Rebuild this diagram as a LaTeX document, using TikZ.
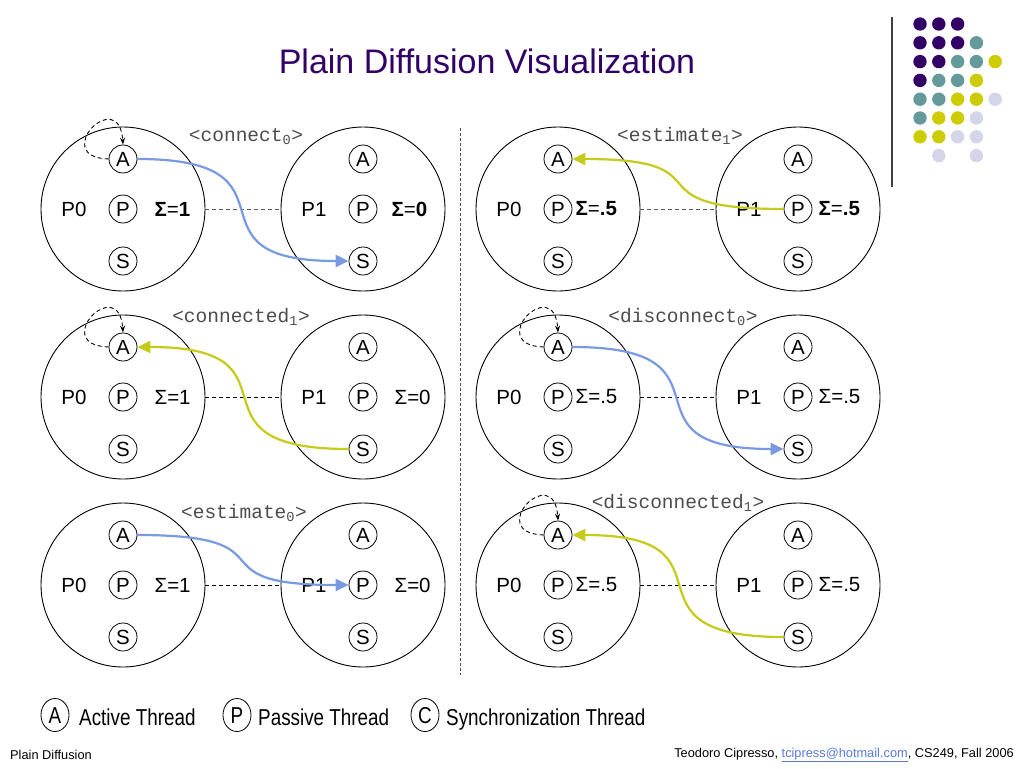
\documentclass[tikz,border=0pt]{standalone}
\usepackage{fontspec}
\setmainfont{Liberation Sans}
\setmonofont{Liberation Mono}
\newfontfamily\narrowsf[FakeStretch=0.82]{Liberation Sans}
\usetikzlibrary{arrows.meta,shapes.geometric}
\definecolor{titlepurple}{RGB}{51,0,102}
\definecolor{dotp}{RGB}{51,0,102}
\definecolor{dott}{RGB}{102,153,153}
\definecolor{doty}{RGB}{204,204,0}
\definecolor{dotl}{RGB}{213,213,234}
\definecolor{msgblue}{RGB}{122,153,227}
\definecolor{msgyellow}{RGB}{198,202,24}
\definecolor{maillink}{RGB}{90,120,220}

\begin{document}
\begin{tikzpicture}[x=1pt,y=-1pt,
  proc/.style={circle,draw,line width=0.9pt,minimum size=164pt,inner sep=0pt},
  thr/.style={circle,draw,line width=0.8pt,minimum size=28pt,inner sep=0pt,font=\fontsize{20.5}{20.5}\selectfont},
  lbl/.style={inner sep=0pt,font=\fontsize{20.5}{20.5}\selectfont},
  statelbl/.style={inner sep=0pt,text=black!70,font=\ttfamily\fontsize{19.5}{19.5}\selectfont},
  link/.style={dashed,line width=0.8pt,dash pattern=on 4pt off 3pt},
  selfloop/.style={line width=0.9pt,dash pattern=on 4pt off 3pt,-{Stealth[length=7pt,width=5pt]}},
  msg/.style={line width=2.2pt,-{Triangle[length=13pt,width=12pt]}},
  key/.style={ellipse,draw,line width=0.8pt,minimum width=28pt,minimum height=33pt,inner sep=0pt,text height=17.5pt,text depth=0pt,font=\narrowsf\fontsize{23}{23}\selectfont},
  keytext/.style={anchor=base west,inner sep=0pt,font=\narrowsf\fontsize{23}{23}\selectfont},
  foot/.style={inner sep=0pt,font=\fontsize{12.8}{12.8}\selectfont}]

\fill[white] (0,0) rectangle (1024,768);
\useasboundingbox (0,0) rectangle (1024,768);

\node[text=titlepurple,font=\fontsize{34}{34}\selectfont] (title) at (487,61) {Plain Diffusion Visualization};

\draw[black!75,line width=1.5pt] (892,17) -- (892,187);
\foreach \r/\cols in {0/{dotp,dotp,dotp},1/{dotp,dotp,dotp,dott},2/{dotp,dotp,dott,dott,doty},
  3/{dotp,dott,dott,doty},4/{dott,dott,doty,doty,dotl},5/{dott,doty,doty,dotl},
  6/{doty,doty,dotl,dotl},7/{none,dotl,none,dotl}}
  \foreach \c [count=\i from 0] in \cols
    \fill[fill=\c] (920+18.8*\i,24+18.8*\r) circle (6.7pt);

\draw[black!70,line width=1pt,dash pattern=on 3pt off 2pt] (460,128) -- (460,675);

\foreach \k/\x/\y/\pn/\sig/\gap in {
  1/123/209/P0/{\textbf{Σ}=\textbf{1}}/17,
  2/363/209/P1/{\textbf{Σ}=\textbf{0}}/14,
  3/558/209/P0/{\textbf{Σ}=\textbf{.5}}/3,
  4/798/209/P1/{\textbf{Σ}=\textbf{.5}}/6,
  5/123/397/P0/{Σ=1}/17,
  6/363/397/P1/{Σ=0}/17,
  7/558/397/P0/{Σ=.5}/3,
  8/798/397/P1/{Σ=.5}/6,
  9/123/585/P0/{Σ=1}/17,
  10/363/585/P1/{Σ=0}/17,
  11/558/585/P0/{Σ=.5}/3,
  12/798/585/P1/{Σ=.5}/6}{
  \node[proc] (c\k) at (\x,\y) {};
  \node[thr] (a\k) at (\x,\y-50) {A};
  \node[thr] (p\k) at (\x,\y) {P};
  \node[thr] (s\k) at (\x,\y+52) {S};
  \node[lbl] (n\k) at (\x-49,\y) {\pn};
  \node[lbl,anchor=west] (v\k) at ([xshift=\gap pt]p\k.east) {\sig};
}

\foreach \i/\j/\col in {1/2/black!65,3/4/black!65,5/6/black,7/8/black,9/10/black,11/12/black}
  \draw[link,\col] (c\i) -- (c\j);

\node[statelbl] (st1) at (246,137) {<connect\textsubscript{0}>};
\node[statelbl] (st2) at (680,136) {<estimate\textsubscript{1}>};
\node[statelbl] (st3) at (241,317) {<connected\textsubscript{1}>};
\node[statelbl] (st4) at (683,317) {<disconnect\textsubscript{0}>};
\node[statelbl] (st5) at (244,513) {<estimate\textsubscript{0}>};
\node[statelbl] (st6) at (678,503) {<disconnected\textsubscript{1}>};

\foreach \k in {1,5,7,11}
  \draw[selfloop] (a\k.west) .. controls +(-60,-2) and +(-4,-60) .. (a\k.north);

\draw[msg,msgblue] (a1.east) to[out=0,in=180,looseness=1.9] (s2.west);
\draw[msg,msgyellow] (p4.west) to[out=180,in=0,looseness=1.9] (a3.east);
\draw[msg,msgyellow] (s6.west) to[out=180,in=0,looseness=1.9] (a5.east);
\draw[msg,msgblue] (a7.east) to[out=0,in=180,looseness=1.9] (s8.west);
\draw[msg,msgblue] (a9.east) to[out=0,in=180,looseness=1.9] (p10.west);
\draw[msg,msgyellow] (s12.west) to[out=180,in=0,looseness=1.9] (a11.east);

\node[key] (ka) at (55,715) {A};
\node[keytext] (ta) at (79,725) {Active Thread};
\node[key] (kp) at (237,715) {P};
\node[keytext] (tp) at (258,725) {Passive Thread};
\node[key] (kc) at (425,715) {C};
\node[keytext] (tc) at (446,725) {Synchronization Thread};

\node[foot,anchor=west] (fl) at (10,755) {Plain Diffusion};
\node[foot,anchor=east] (fr) at (1014,755) {Teodoro Cipresso, \textcolor{maillink}{\underline{tcipress@hotmail.com}}, CS249, Fall 2006};

\end{tikzpicture}
\end{document}
